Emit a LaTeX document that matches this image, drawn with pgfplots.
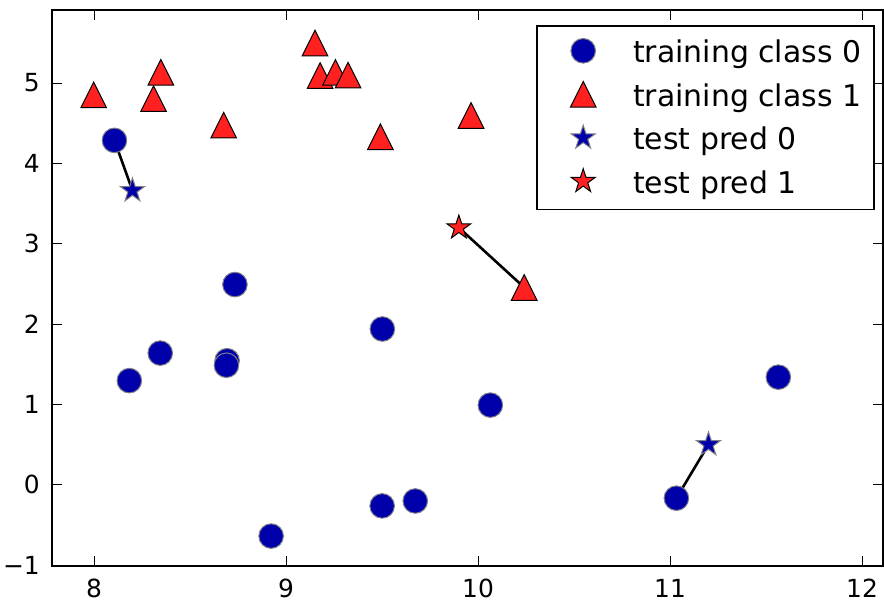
\documentclass[border=0pt]{standalone}
\usepackage{fontspec}
\setmainfont{DejaVu Sans}
\usepackage{pgfplots}
\pgfplotsset{compat=1.18}
\definecolor{cblue}{HTML}{0000AA}
\definecolor{cred}{HTML}{FF2020}
\definecolor{cedge}{HTML}{808088}
\pgfdeclareplotmark{fstar}{%
 \pgfpathmoveto{\pgfqpointpolar{90}{\pgfplotmarksize}}%
 \pgfpathlineto{\pgfqpointpolar{126}{0.382\pgfplotmarksize}}%
 \pgfpathlineto{\pgfqpointpolar{162}{\pgfplotmarksize}}%
 \pgfpathlineto{\pgfqpointpolar{198}{0.382\pgfplotmarksize}}%
 \pgfpathlineto{\pgfqpointpolar{234}{\pgfplotmarksize}}%
 \pgfpathlineto{\pgfqpointpolar{270}{0.382\pgfplotmarksize}}%
 \pgfpathlineto{\pgfqpointpolar{306}{\pgfplotmarksize}}%
 \pgfpathlineto{\pgfqpointpolar{342}{0.382\pgfplotmarksize}}%
 \pgfpathlineto{\pgfqpointpolar{18}{\pgfplotmarksize}}%
 \pgfpathlineto{\pgfqpointpolar{54}{0.382\pgfplotmarksize}}%
 \pgfpathclose\pgfusepathqfillstroke}
\pgfdeclareplotmark{mtri}{%
 \pgfpathmoveto{\pgfqpoint{0pt}{\pgfplotmarksize}}%
 \pgfpathlineto{\pgfqpoint{-\pgfplotmarksize}{-\pgfplotmarksize}}%
 \pgfpathlineto{\pgfqpoint{\pgfplotmarksize}{-\pgfplotmarksize}}%
 \pgfpathclose\pgfusepathqfillstroke}
\pgfplotsset{
 myleg/.style={legend image code/.code={%
   \path[draw=none, fill=none] (-33bp,-8bp) rectangle (50bp,29bp);
   \draw[##1] plot coordinates {(0bp,12bp)};}}
}
\begin{document}
\begin{tikzpicture}
\begin{axis}[at={(0,0)}, anchor=south west, scale only axis,
 width=831bp, height=556bp,
 xmin=7.781, xmax=12.109, ymin=-1.0125, ymax=5.91,
 xtick={8,9,10,11,12}, ytick={-1,0,1,2,3,4,5},
 xticklabels={8,9,10,11,12},
 yticklabels={−1,0,1,2,3,4,5},
 tick align=inside, major tick length=10bp,
 axis line style={line width=1.6bp},
 every tick/.style={black, line width=0.8bp},
 ticklabel style={font=\fontsize{25}{30}\selectfont, inner sep=0pt},
 xticklabel style={yshift=-13bp},
 yticklabel style={xshift=-12bp},
 legend style={at={(1,1)}, anchor=north east, xshift=-8bp, yshift=-15bp,
   draw=black, line width=1.6bp, fill=white,
   inner xsep=13bp, inner ysep=8bp, row sep=6.5bp,
   font=\fontsize{30}{36}\selectfont,
   nodes={inner sep=0pt, text height=29bp, text depth=8bp, anchor=base west}},
 legend cell align=left,
]
\addplot[black, line width=2.6bp, forget plot] coordinates {(8.2,3.66214339) (8.1062269,4.28695977)};
\addplot[black, line width=2.6bp, forget plot] coordinates {(9.9,3.2) (10.24028948,2.45544401)};
\addplot[black, line width=2.6bp, forget plot] coordinates {(11.2,0.5) (11.0329545,-0.16816717)};
\addplot[only marks, mark=*, mark size=12.3bp, mark options={fill=cblue, draw=cedge, line width=1bp}, myleg] coordinates {
(11.0329545,-0.16816717) (8.69289001,1.54322016) (8.1062269,4.28695977) (9.67284681,-0.20283165) (8.68937095,1.48709629) (8.92229526,-0.63993225) (8.18378052,1.29564214) (8.7337095,2.49162431) (10.06393839,0.99078055) (9.50048972,-0.26430318) (8.34468785,1.63824349) (9.50169345,1.93824624) (11.563957,1.3389402)};
\addlegendentry{training class 0}
\addplot[only marks, mark=mtri, mark size=12.8bp, mark options={fill=cred, draw=black, line width=1bp}, myleg] coordinates {
(9.96346605,4.59676542) (11.54155807,5.21116083) (8.30988863,4.80623966) (11.93027136,4.64866327) (8.34810316,5.13415623) (8.67494727,4.47573059) (9.17748385,5.09283177) (10.24028948,2.45544401) (9.49123469,4.33224792) (9.25694192,5.13284858) (7.99815287,4.8525051) (9.32298256,5.09840649) (9.15072323,5.49832246)};
\addlegendentry{training class 1}
\addplot[only marks, mark=fstar, mark size=12.6bp, mark options={fill=cblue, draw=cedge, line width=1bp}, myleg] coordinates {
(8.2,3.66214339) (11.2,0.5)};
\addlegendentry{test pred 0}
\addplot[only marks, mark=fstar, mark size=12.6bp, mark options={fill=cred, draw=black, line width=1bp}, myleg] coordinates {
(9.9,3.2)};
\addlegendentry{test pred 1}
\end{axis}
\pgfresetboundingbox
\path[use as bounding box] (-52bp,-35bp) rectangle (832bp,566bp);
\end{tikzpicture}
\end{document}
